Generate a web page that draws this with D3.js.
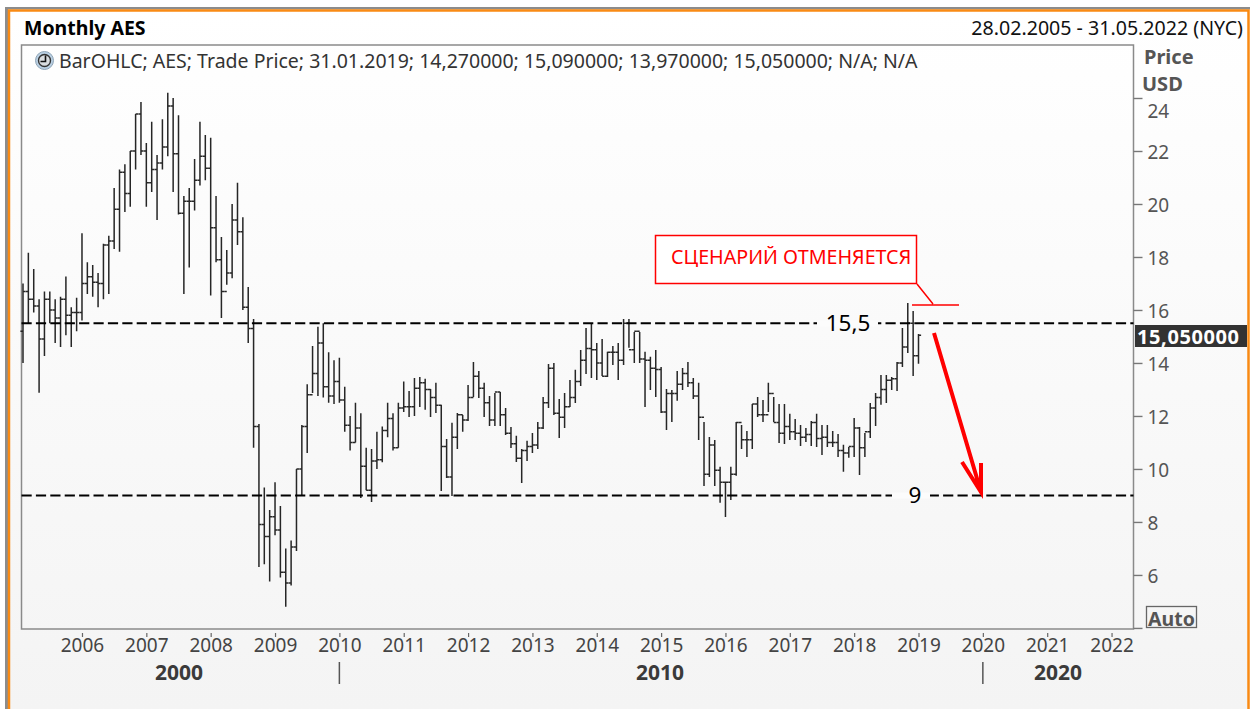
<!DOCTYPE html>
<html>
<head>
<meta charset="utf-8">
<script src="https://cdn.jsdelivr.net/npm/d3@7"></script>
<style>
  html, body { margin: 0; padding: 0; background: #fff; }
  svg { display: block; font-family: "Noto Sans", sans-serif; }
</style>
</head>
<body>
<div id="chart"></div>
<script>
// Monthly bars, Feb 2005 - Jan 2019
const opens = [15.2,16.7,16.4,16.15,14.9,16.4,16,15.7,16.4,15.8,15.9,15.9,17,17.25,17.05,17,18.45,18.6,19.8,21.2,20.4,22,23.4,22,20.8,21.3,21.55,22.15,23.7,21.9,19.65,20.1,20.1,20.9,21.8,21.35,19.1,17.9,16.7,17.4,19.4,18.95,16.1,15.3,11.6,7.9,7.45,8.2,7.7,6.1,5.7,7.05,10,11.6,12.8,13.6,14.75,13.1,12.75,13.3,12.6,11.65,11,11.55,10.1,9.2,10.3,10.35,11.45,11.9,10.8,12.3,12.35,12.35,13.05,13.25,13,12.7,12.4,10.85,9.7,11.2,12.05,11.85,12.7,13.5,13.05,12.5,11.85,12.9,12.05,11.35,10.95,10.4,10.7,10.85,10.9,11.55,12.5,13.8,12.1,11.95,12.35,12.7,13.3,14.1,14.55,14.5,14,13.5,14.4,14.4,14.1,15.5,14.5,15.2,14.15,14.1,13.8,13.75,12.15,12.85,12.85,13.2,13.6,13.25,12.75,11.95,9.8,10.9,9.95,9.5,9.5,9.8,11.75,11.1,11.1,12.45,12.05,12.05,12.85,11.75,11.35,11.6,11.4,11.35,11.2,11.3,11.75,11.15,11.2,11,11,10.7,10.6,10.85,11.55,10.8,11.4,12.3,12.7,13,13.35,13.4,14,14.6,15.5,14.27];
const highs = [17,18.16,17.55,16.4,16.7,16.7,16.4,16.5,17.26,16.1,16.46,18.9,17.8,17.7,17.4,18.5,18.8,20.6,21.3,21.5,22,23.4,23.85,22.3,23.1,21.85,23.2,24.2,24,23.35,20.3,20.6,21.7,23.1,22.6,22.5,20.3,18.75,18.26,20,20.8,19.5,16.87,15.66,11.7,9.3,8.45,9.5,8.6,7,7.3,10,11.66,13.2,14.64,15.37,15.5,14.4,14.1,14.2,13.1,12,12.5,12.1,10.8,10.75,11.4,11.6,12.5,12.1,12.5,13.3,12.94,13.43,13.47,13.4,13.02,13.25,12.42,11.13,11.74,12.11,12.04,13.17,14.04,13.7,13.25,12.75,12.87,12.9,12.3,11.58,11.25,10.75,11.06,11.36,11.77,12.72,13.96,14,12.64,12.87,13.36,13.74,14.49,15.32,15.51,14.75,14.9,14.42,14.64,14.75,15.66,15.66,15.17,15.17,14.42,14.23,14.49,13.85,13.02,12.98,13.7,13.81,14.04,13.43,13.25,11.77,11.21,11.09,10.08,9.51,10.08,11.77,11.66,11.43,12.45,12.72,12.6,13.25,12.72,12.45,12.45,12.08,11.89,11.66,11.55,11.81,12.08,11.66,11.66,11.43,11.32,10.91,10.83,11.92,11.58,11.36,12.49,12.87,13.55,13.55,13.47,14.04,15.32,16.26,15.96,15.09];
const lows = [14,15.5,15.9,12.88,14.26,15.5,14.75,14.6,15.05,14.6,15.2,15.6,16.6,16.5,16.1,16.4,16.6,18.3,18.2,19.7,19.9,21.3,21.85,19.9,20.45,19.4,21.3,21.8,20.45,19.6,16.6,17.6,19.75,20.7,20.9,16.55,17.8,15.7,16.95,17.2,18.45,16,14.75,10.8,6.3,6.4,5.75,7.5,5.9,4.8,5.6,6.9,9,10.6,12.87,12.75,12.7,12.5,12.45,12.5,11.4,10.7,11,8.9,9.2,8.75,10,10.25,11.2,10.7,10.8,12.15,11.96,12,12.34,12.23,11.96,12.11,9.17,9.66,8.98,10.75,11.4,11.81,12.72,12.68,11.96,11.62,11.62,11.62,11.28,10.79,10.26,9.47,10.3,10.6,10.75,11.51,12.3,12.04,11.17,11.55,12.34,12.49,13.13,13.58,13.43,13.36,13.51,13.47,13.92,13.36,13.92,14.57,14,14,12.34,12.98,12.72,12.11,11.47,11.77,12.57,12.98,13.09,12.64,11.09,9.36,9.7,9.36,8.72,8.19,8.83,9.74,10.75,10.45,10.75,11.96,11.77,12.15,11.77,10.98,10.94,11.09,11.09,10.87,11.02,10.87,10.83,10.53,10.83,10.83,10.45,9.89,10.42,10.45,9.77,10.45,11.17,11.62,12.42,12.49,12.98,12.94,13.85,14.38,13.51,13.97];
const closes = [16.7,16.4,16.15,14.9,16.4,16,15.7,16.4,15.8,15.9,15.9,17,17.25,17.05,17,18.45,18.6,19.8,21.2,20.4,22,23.4,22,20.8,21.3,21.55,22.15,23.7,21.9,19.65,20.1,20.1,20.9,21.8,21.35,19.1,17.9,16.7,17.4,19.4,18.95,16.1,15.3,11.6,7.9,7.45,8.2,7.7,6.1,5.7,7.05,10,11.6,12.8,13.6,14.75,13.1,12.75,13.3,12.6,11.65,11,11.55,10.1,9.2,10.3,10.35,11.45,11.9,10.8,12.3,12.35,12.35,13.05,13.25,13,12.7,12.4,10.85,9.7,11.2,12.05,11.85,12.7,13.5,13.05,12.5,11.85,12.9,12.05,11.35,10.95,10.4,10.7,10.85,10.9,11.55,12.5,13.8,12.1,11.95,12.35,12.7,13.3,14.1,14.55,14.5,14,13.5,14.4,14.4,14.1,15.5,14.5,15.2,14.15,14.1,13.8,13.75,12.15,12.85,12.85,13.2,13.6,13.25,12.75,11.95,9.8,10.9,9.95,9.5,9.5,9.8,11.75,11.1,11.1,12.45,12.05,12.05,12.85,11.75,11.35,11.6,11.4,11.35,11.2,11.3,11.75,11.15,11.2,11,11,10.7,10.6,10.85,11.55,10.8,11.4,12.3,12.7,13,13.35,13.4,14,14.6,15.5,14.27,15.05];

const yearTicks = [2006,2007,2008,2009,2010,2011,2012,2013,2014,2015,2016,2017,2018,2019,2020,2021,2022];
const priceTicks = [4,6,8,10,12,14,16,18,20,22,24];
const levels = [15.5, 9];

// Every month on the time axis, Feb 2005 - May 2022
const months = d3.timeMonth.range(new Date(2005, 1, 1), new Date(2022, 5, 1));

const width = 1254;
const height = 709;
const plot = { left: 21.5, right: 1133.5, top: 45, bottom: 629 };

const svg = d3.select("#chart")
    .append("svg")
    .attr("width", width)
    .attr("height", height);

// Panel background
const grad = svg.append("defs").append("linearGradient")
    .attr("id", "panel-bg")
    .attr("x1", 0).attr("y1", 0).attr("x2", 0).attr("y2", 1);
grad.append("stop").attr("offset", "0%").attr("stop-color", "#ffffff");
grad.append("stop").attr("offset", "100%").attr("stop-color", "#f4f4f4");

svg.append("rect").attr("x", 5).attr("y", 7).attr("width", 1245).attr("height", 2.5).attr("fill", "#8c8c8c");
svg.append("rect").attr("x", 5).attr("y", 7).attr("width", 3).attr("height", 702).attr("fill", "#8c8c8c");
svg.append("rect").attr("x", 9).attr("y", 11).attr("width", 1239).attr("height", 698).attr("fill", "url(#panel-bg)");
svg.append("path")
    .attr("d", "M9,709V10.5H1248.5V709")
    .attr("fill", "none")
    .attr("stroke", "#f98a14")
    .attr("stroke-width", 2.5);

// Scales
const x = d3.scalePoint()
    .domain(months.map(d => +d))
    .range([23, 1133]);
const y = d3.scaleLinear()
    .domain([3.96, 26])
    .range([plot.bottom, plot.top]);

// Plot frame
svg.append("rect")
    .attr("x", plot.left)
    .attr("y", plot.top)
    .attr("width", plot.right - plot.left)
    .attr("height", plot.bottom - plot.top)
    .attr("fill", "none")
    .attr("stroke", "#8a8a8a")
    .attr("stroke-width", 1.5);

// OHLC bars
const bars = svg.append("g")
    .attr("stroke", "#262626")
    .attr("stroke-width", 1.5)
    .selectAll("path")
    .data(closes)
    .enter()
    .append("path")
    .attr("fill", "none")
    .attr("d", (c, i) => {
        const px = x(+months[i]);
        return `M${px},${y(highs[i])}V${y(lows[i])}`
            + `M${px - 2.6},${y(opens[i])}H${px}`
            + `M${px},${y(c)}H${px + 2.6}`;
    });

// Support and resistance levels
svg.append("g")
    .selectAll("line")
    .data(levels)
    .enter()
    .append("line")
    .attr("x1", plot.left)
    .attr("x2", plot.right)
    .attr("y1", d => y(d))
    .attr("y2", d => y(d))
    .attr("stroke", "#000")
    .attr("stroke-width", 2)
    .attr("stroke-dasharray", "10.2,4.2");

// Level labels, with a gap cut in the dashes
[["15,5", 15.5, 817, 61, 848], ["9", 9, 892, 38, 915]].forEach(([label, v, gx, gw, tx]) => {
    svg.append("rect")
        .attr("x", gx).attr("y", y(v) - 3)
        .attr("width", gw).attr("height", 6)
        .attr("fill", "#fcfcfc");
    svg.append("text")
        .attr("x", tx).attr("y", y(v) + 8)
        .attr("text-anchor", "middle")
        .attr("font-size", 22.5)
        .attr("fill", "#000")
        .text(label);
});

// Axes
const xAxis = d3.axisBottom(x)
    .tickValues(yearTicks.map(t => +new Date(t, 0, 1)))
    .tickFormat(d => new Date(d).getFullYear())
    .tickSize(4)
    .tickPadding(1);
const gx = svg.append("g")
    .attr("transform", "translate(0,633)")
    .call(xAxis);
gx.select(".domain").remove();
gx.selectAll("line").attr("stroke", "#666").attr("stroke-width", 1.2);
gx.selectAll("text").attr("font-size", 19).attr("font-family", "Noto Sans").attr("fill", "#444");

const yAxis = d3.axisRight(y)
    .tickValues(priceTicks)
    .tickFormat(d => d === 4 ? "" : d)
    .tickSize(9)
    .tickPadding(5);
const gy = svg.append("g")
    .attr("transform", `translate(${plot.right},0)`)
    .call(yAxis);
gy.select(".domain").remove();
gy.selectAll("line").attr("stroke", "#777").attr("stroke-width", 1.4);
gy.selectAll("text")
    .attr("font-size", 19)
    .attr("font-family", "Noto Sans")
    .attr("fill", "#555")
    .attr("dy", d => d === 24 ? 20 : 8);

// Era labels under the years
[["2000", 179], ["2010", 660], ["2020", 1058]].forEach(([label, tx]) => {
    svg.append("text")
        .attr("x", tx).attr("y", 680)
        .attr("text-anchor", "middle")
        .attr("font-size", 21)
        .attr("font-weight", "bold")
        .attr("fill", "#3a3a3a")
        .text(label);
});
[2010, 2020].forEach(t => {
    const px = x(+new Date(t, 0, 1));
    svg.append("line")
        .attr("x1", px).attr("x2", px)
        .attr("y1", 662).attr("y2", 684)
        .attr("stroke", "#555")
        .attr("stroke-width", 1.5);
});

// Header texts
svg.append("text").attr("x", 24).attr("y", 35)
    .attr("font-size", 19.5).attr("font-weight", "bold").attr("fill", "#000")
    .text("Monthly AES");
svg.append("text").attr("x", 1243).attr("y", 35)
    .attr("text-anchor", "end").attr("font-size", 19.6).attr("fill", "#111")
    .text("28.02.2005 - 31.05.2022 (NYC)");
svg.append("text").attr("x", 59).attr("y", 68)
    .attr("font-size", 19.5).attr("fill", "#333")
    .text("BarOHLC; AES; Trade Price; 31.01.2019; 14,270000; 15,090000; 13,970000; 15,050000; N/A; N/A");

// Clock icon
const clock = svg.append("g").attr("transform", "translate(44.5,60.5)");
clock.append("circle").attr("r", 9).attr("fill", "#b9cfe2").attr("stroke", "#8fa5b8");
clock.append("circle").attr("r", 6).attr("fill", "#d9dde0").attr("stroke", "#333").attr("stroke-width", 1.4);
clock.append("path").attr("d", "M-4,1H1V-5").attr("fill", "none").attr("stroke", "#111").attr("stroke-width", 1.6);

// Price and USD labels
svg.append("text").attr("x", 1144).attr("y", 64)
    .attr("font-size", 20).attr("font-weight", "bold").attr("fill", "#555").text("Price");
svg.append("text").attr("x", 1142).attr("y", 91)
    .attr("font-size", 20).attr("font-weight", "bold").attr("fill", "#555").text("USD");

// Last price tag
svg.append("rect").attr("x", 1135).attr("y", 325).attr("width", 112).attr("height", 22).attr("fill", "#333");
svg.append("text").attr("x", 1137).attr("y", 343.5)
    .attr("font-size", 20).attr("font-weight", "bold").attr("letter-spacing", 0.6).attr("fill", "#fff")
    .text("15,050000");

// Auto button
svg.append("rect").attr("x", 1146.5).attr("y", 606.5).attr("width", 50).attr("height", 21)
    .attr("fill", "none").attr("stroke", "#666").attr("stroke-width", 1.3);
svg.append("text").attr("x", 1148).attr("y", 626)
    .attr("font-size", 19.5).attr("font-weight", "bold").attr("fill", "#555").text("Auto");

// Red annotation
svg.append("rect").attr("x", 655.5).attr("y", 235.5).attr("width", 261).attr("height", 48)
    .attr("fill", "#fff").attr("stroke", "#f00").attr("stroke-width", 1.5);
svg.append("text").attr("x", 671).attr("y", 264)
    .attr("font-size", 19.7).attr("fill", "#f00")
    .text("СЦЕНАРИЙ ОТМЕНЯЕТСЯ");
svg.append("path").attr("d", "M917,284L933,304M912,305H959")
    .attr("fill", "none").attr("stroke", "#f00").attr("stroke-width", 1.5);
svg.append("path").attr("d", "M934,333L981,492M962,462L981,492L981,463")
    .attr("fill", "none").attr("stroke", "#f00").attr("stroke-width", 4);
</script>
</body>
</html>
